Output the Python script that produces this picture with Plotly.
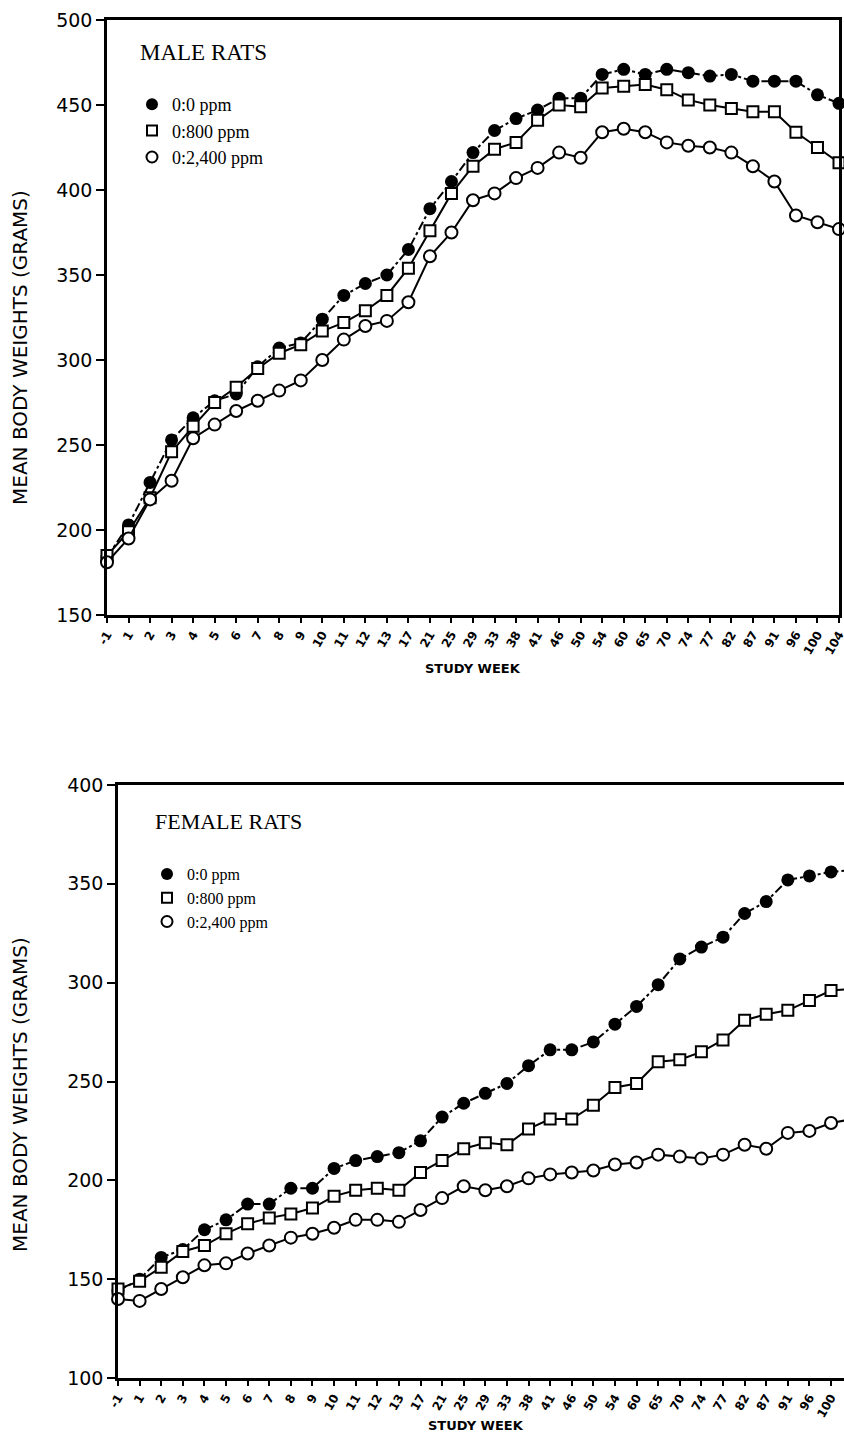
import plotly.graph_objects as go

W, H = 844, 1439

weeks = ["-1", "1", "2", "3", "4", "5", "6", "7", "8", "9", "10", "11", "12", "13",
         "17", "21", "25", "29", "33", "38", "41", "46", "50", "54", "60", "65",
         "70", "74", "77", "82", "87", "91", "96", "100", "104"]

series_names = ["0:0 ppm", "0:800 ppm", "0:2,400 ppm"]

male_0 = [184, 203, 228, 253, 266, 276, 280, 296, 307, 310, 324, 338, 345, 350, 365,
          389, 405, 422, 435, 442, 447, 454, 454, 468, 471, 468, 471, 469, 467, 468,
          464, 464, 464, 456, 451]
male_800 = [185, 199, 219, 246, 261, 275, 284, 295, 304, 309, 317, 322, 329, 338, 354,
            376, 398, 414, 424, 428, 441, 450, 449, 460, 461, 462, 459, 453, 450, 448,
            446, 446, 434, 425, 416]
male_2400 = [181, 195, 218, 229, 254, 262, 270, 276, 282, 288, 300, 312, 320, 323, 334,
             361, 375, 394, 398, 407, 413, 422, 419, 434, 436, 434, 428, 426, 425, 422,
             414, 405, 385, 381, 377]

female_0 = [144, 150, 161, 165, 175, 180, 188, 188, 196, 196, 206, 210, 212, 214, 220,
            232, 239, 244, 249, 258, 266, 266, 270, 279, 288, 299, 312, 318, 323, 335,
            341, 352, 354, 356, 357]
female_800 = [145, 149, 156, 164, 167, 173, 178, 181, 183, 186, 192, 195, 196, 195, 204,
              210, 216, 219, 218, 226, 231, 231, 238, 247, 249, 260, 261, 265, 271, 281,
              284, 286, 291, 296, 297]
female_2400 = [140, 139, 145, 151, 157, 158, 163, 167, 171, 173, 176, 180, 180, 179, 185,
               191, 197, 195, 197, 201, 203, 204, 205, 208, 209, 213, 212, 211, 213, 218,
               216, 224, 225, 229, 231]

male_ticks = [150, 200, 250, 300, 350, 400, 450, 500]
female_ticks = [100, 150, 200, 250, 300, 350, 400]


def px(x):
    return x / W


def py(y):
    return 1 - y / H


styles = [
    dict(marker=dict(symbol="circle", size=13, color="black",
                     line=dict(color="black", width=0)),
         line=dict(color="black", width=2, dash="dashdot")),
    dict(marker=dict(symbol="square", size=11, color="white",
                     line=dict(color="black", width=2)),
         line=dict(color="black", width=2)),
    dict(marker=dict(symbol="circle", size=12, color="white",
                     line=dict(color="black", width=2)),
         line=dict(color="black", width=2)),
]

fig = go.Figure()

for ys, (xa, ya, leg) in [((male_0, male_800, male_2400), ("x", "y", "legend")),
                          ((female_0, female_800, female_2400), ("x2", "y2", "legend2"))]:
    for name, vals, st in zip(series_names, ys, styles):
        fig.add_trace(go.Scatter(x=weeks, y=vals, mode="lines+markers", name=name,
                                 xaxis=xa, yaxis=ya, showlegend=False,
                                 cliponaxis=False, **st))
    for name, st in zip(series_names, styles):
        fig.add_trace(go.Scatter(x=[None], y=[None], mode="markers", name=name,
                                 xaxis=xa, yaxis=ya, legend=leg,
                                 marker=dict(st["marker"], size=st["marker"]["size"] - 1)))

tick_font = dict(family="DejaVu Sans", size=19, color="black")
xtick_font = dict(family="DejaVu Sans", size=12, color="black", weight="bold")

common_x = dict(type="category", categoryorder="array", categoryarray=weeks,
                showline=True, linecolor="black", linewidth=2.5, ticks="outside",
                ticklen=5, tickwidth=1.5, tickcolor="black", tickangle=-60,
                tickfont=xtick_font, showgrid=False, zeroline=False, automargin=False)
common_y = dict(showline=True, linecolor="black", linewidth=2.5, ticks="outside",
                ticklen=8, tickwidth=1.5, tickcolor="black", tickfont=tick_font,
                showgrid=False, zeroline=False, automargin=False)

fig.update_layout(
    width=W, height=H, margin=dict(l=0, r=0, t=0, b=0, autoexpand=False),
    paper_bgcolor="white", plot_bgcolor="white",
    xaxis=dict(common_x, domain=[px(107), px(839)], range=[0, 34], anchor="y",
               mirror=True),
    yaxis=dict(common_y, domain=[py(615), py(20)], range=[150, 500], anchor="x",
               tickvals=male_ticks, mirror=True),
    xaxis2=dict(common_x, domain=[px(118), 1.0], range=[0, 33.6], anchor="y2",
                mirror=True),
    yaxis2=dict(common_y, domain=[py(1378), py(785)], range=[100, 400], anchor="x2",
                tickvals=female_ticks),
    legend=dict(x=px(132), y=py(86), xanchor="left", yanchor="top",
                font=dict(family="Liberation Serif", size=18, color="black"),
                bgcolor="rgba(0,0,0,0)", tracegroupgap=0),
    legend2=dict(x=px(147), y=py(857), xanchor="left", yanchor="top",
                 font=dict(family="Liberation Serif", size=16, color="black"),
                 bgcolor="rgba(0,0,0,0)", tracegroupgap=0),
    annotations=[
        dict(text="MALE RATS", x=px(138), y=py(53), xref="paper", yref="paper",
             xanchor="left", yanchor="middle", showarrow=False,
             font=dict(family="Liberation Serif", size=23, color="black")),
        dict(text="FEMALE RATS", x=px(153), y=py(822), xref="paper", yref="paper",
             xanchor="left", yanchor="middle", showarrow=False,
             font=dict(family="Liberation Serif", size=22, color="black")),
        dict(text="MEAN BODY WEIGHTS (GRAMS)", x=px(20), y=py(348), xref="paper",
             yref="paper", xanchor="center", yanchor="middle", textangle=-90,
             showarrow=False, font=dict(family="DejaVu Sans", size=20, color="black")),
        dict(text="MEAN BODY WEIGHTS (GRAMS)", x=px(20), y=py(1095), xref="paper",
             yref="paper", xanchor="center", yanchor="middle", textangle=-90,
             showarrow=False, font=dict(family="DejaVu Sans", size=20, color="black")),
        dict(text="STUDY WEEK", x=px(473), y=py(668), xref="paper", yref="paper",
             xanchor="center", yanchor="middle", showarrow=False,
             font=dict(family="DejaVu Sans", size=13, color="black", weight="bold")),
        dict(text="STUDY WEEK", x=px(476), y=py(1425), xref="paper", yref="paper",
             xanchor="center", yanchor="middle", showarrow=False,
             font=dict(family="DejaVu Sans", size=13, color="black", weight="bold")),
    ],
)

fig.write_html(
    "out.html",
    config={"displayModeBar": False},
    post_script="document.body.style.margin='0';document.body.style.overflow='hidden';",
)
